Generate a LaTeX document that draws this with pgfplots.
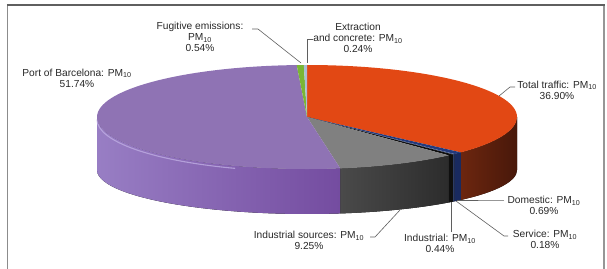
\documentclass[border=0pt]{standalone}
\usepackage{pgfplots}
\pgfplotsset{compat=1.18}
\usepackage{fontspec}
\setmainfont{Liberation Sans}

\definecolor{cTraffic}{RGB}{226,72,20}
\definecolor{cTrafficSideL}{RGB}{108,38,15}
\definecolor{cTrafficSideR}{RGB}{72,24,10}
\definecolor{cDomestic}{RGB}{35,58,125}
\definecolor{cDomesticSide}{RGB}{25,42,95}
\definecolor{cService}{RGB}{70,90,140}
\definecolor{cServiceSide}{RGB}{45,60,100}
\definecolor{cIndustrial}{RGB}{15,15,15}
\definecolor{cIndSources}{RGB}{128,128,128}
\definecolor{cIndSourcesSideL}{RGB}{74,74,74}
\definecolor{cIndSourcesSideR}{RGB}{44,44,44}
\definecolor{cPort}{RGB}{143,115,180}
\definecolor{cPortSideL}{RGB}{152,126,196}
\definecolor{cPortSideR}{RGB}{116,76,160}
\definecolor{cPortHi}{RGB}{190,172,226}
\definecolor{cFugitive}{RGB}{122,182,52}
\definecolor{cExtraction}{RGB}{170,190,212}
\definecolor{cText}{RGB}{40,40,40}
\definecolor{cLeader}{RGB}{95,95,95}

% ---- data (percent of PM10) ----
\def\vTraffic{36.90}
\def\vDomestic{0.69}
\def\vService{0.18}
\def\vIndustrial{0.44}
\def\vIndSources{9.25}
\def\vPort{51.74}
\def\vFugitive{0.54}
\def\vExtraction{0.24}
\pgfmathsetmacro\vTotal{\vTraffic+\vDomestic+\vService+\vIndustrial+\vIndSources+\vPort+\vFugitive+\vExtraction}
\pgfmathsetmacro\degPer{360/\vTotal}
% boundary angles (deg, ccw from +x), first slice starts at 12 o'clock, clockwise
\pgfmathsetmacro\aA{90}
\pgfmathsetmacro\aB{\aA-\degPer*\vTraffic}
\pgfmathsetmacro\aC{\aB-\degPer*\vDomestic}
\pgfmathsetmacro\aD{\aC-\degPer*\vService}
\pgfmathsetmacro\aE{\aD-\degPer*\vIndustrial}
\pgfmathsetmacro\aF{\aE-\degPer*\vIndSources}
\pgfmathsetmacro\aG{\aF-\degPer*\vPort}
\pgfmathsetmacro\aH{\aG-\degPer*\vFugitive}
\pgfmathsetmacro\aI{\aH-\degPer*\vExtraction}
% geometry of the 3D pie (axis units = px)
\def\pcx{307}\def\pcy{151}\def\pra{210}\def\prb{52}
\def\pby{98}\def\prbb{44}

\newcommand{\topslice}[3]{%
  \fill[#3] (axis cs:\pcx,\pcy) -- (axis cs:{\pcx+\pra*cos(#1)},{\pcy+\prb*sin(#1)})
    arc[start angle=#1, end angle=#2, x radius=\pra pt, y radius=\prb pt] -- cycle;}
\newcommand{\sideslice}[4]{%
  \fill[left color=#3, right color=#4]
    (axis cs:{\pcx+\pra*cos(#1)},{\pcy+\prb*sin(#1)})
    arc[start angle=#1, end angle=#2, x radius=\pra pt, y radius=\prb pt]
    -- (axis cs:{\pcx+\pra*cos(#2)},{\pby+\prbb*sin(#2)})
    arc[start angle=#2, end angle=#1, x radius=\pra pt, y radius=\prbb pt] -- cycle;}

\tikzset{lbl/.style={font=\fontsize{10.2}{11}\selectfont, text=cText, align=center, inner sep=0pt}}

\begin{document}
\begin{tikzpicture}
\begin{axis}[
  x=1pt, y=1pt, xmin=0, xmax=607, ymin=0, ymax=268,
  hide axis, clip=false,
]
% frame
\draw[color={rgb,255:red,140;green,140;blue,140}, line width=1.4pt] (axis cs:7.5,-5) -- (axis cs:7.5,263);
\draw[color={rgb,255:red,150;green,150;blue,150}, line width=1.2pt] (axis cs:604,-5) -- (axis cs:604,263);
\draw[color={rgb,255:red,95;green,95;blue,95}, line width=1.2pt] (axis cs:6.8,263) -- (axis cs:604.6,263);

% visible sides
\sideslice{0}{\aB}{cTrafficSideL}{cTrafficSideR}
\sideslice{\aB}{\aC}{cDomesticSide}{cDomesticSide}
\sideslice{\aC}{\aD}{cServiceSide}{cServiceSide}
\sideslice{\aD}{\aE}{cIndustrial}{cIndustrial}
\sideslice{\aE}{\aF}{cIndSourcesSideL}{cIndSourcesSideR}
\sideslice{\aF}{-180}{cPortSideL}{cPortSideR}
\draw[cPortHi, line width=1.1pt, opacity=0.8]
  (axis cs:{\pcx-\pra},{\pcy-2.5}) arc[start angle=-180, end angle=-110, x radius=\pra pt, y radius=\prb pt];

% top faces
\topslice{\aA}{\aB}{cTraffic}
\topslice{\aB}{\aC}{cDomestic}
\topslice{\aC}{\aD}{cService}
\topslice{\aD}{\aE}{cIndustrial}
\topslice{\aE}{\aF}{cIndSources}
\topslice{\aF}{\aG}{cPort}
\topslice{\aG}{\aH}{cFugitive}
\topslice{\aH}{\aI}{cExtraction}

% leader lines
\draw[cLeader, line width=0.6pt] (axis cs:252,239) -- (axis cs:258,239) -- (axis cs:301,205);
\draw[cLeader, line width=0.6pt] (axis cs:313,229) -- (axis cs:307,229) -- (axis cs:307,205);
\draw[cLeader, line width=0.6pt] (axis cs:515,181) -- (axis cs:510,181) -- (axis cs:499,172);
\draw[cLeader, line width=0.6pt] (axis cs:504,68) -- (axis cs:499,68) -- (axis cs:457,68);
\draw[cLeader, line width=0.6pt] (axis cs:508,32) -- (axis cs:504,32) -- (axis cs:456,67);
\draw[cLeader, line width=0.6pt] (axis cs:451,36) -- (axis cs:451,66);
\draw[cLeader, line width=0.6pt] (axis cs:370,31) -- (axis cs:375,31) -- (axis cs:400,58);

% labels
\node[lbl] at (axis cs:200,231) {Fugitive emissions:\\PM\textsubscript{10}\\\vFugitive\%};
\node[lbl] at (axis cs:358,230) {Extraction\\and concrete: PM\textsubscript{10}\\\vExtraction\%};
\node[lbl] at (axis cs:77,190) {Port of Barcelona: PM\textsubscript{10}\\\vPort\%};
\node[lbl] at (axis cs:557,178) {Total traffic: PM\textsubscript{10}\\\vTraffic\%};
\node[lbl] at (axis cs:544,62.5) {Domestic: PM\textsubscript{10}\\\vDomestic\%};
\node[lbl] at (axis cs:545,28.5) {Service: PM\textsubscript{10}\\\vService\%};
\node[lbl] at (axis cs:440,24.5) {Industrial: PM\textsubscript{10}\\\vIndustrial\%};
\node[lbl] at (axis cs:309,27.5) {Industrial sources: PM\textsubscript{10}\\\vIndSources\%};

\coordinate (bbSW) at (axis cs:0,0);
\coordinate (bbNE) at (axis cs:607,268);
\end{axis}
\pgfresetboundingbox
\path[use as bounding box] (bbSW) rectangle (bbNE);
\end{tikzpicture}
\end{document}
